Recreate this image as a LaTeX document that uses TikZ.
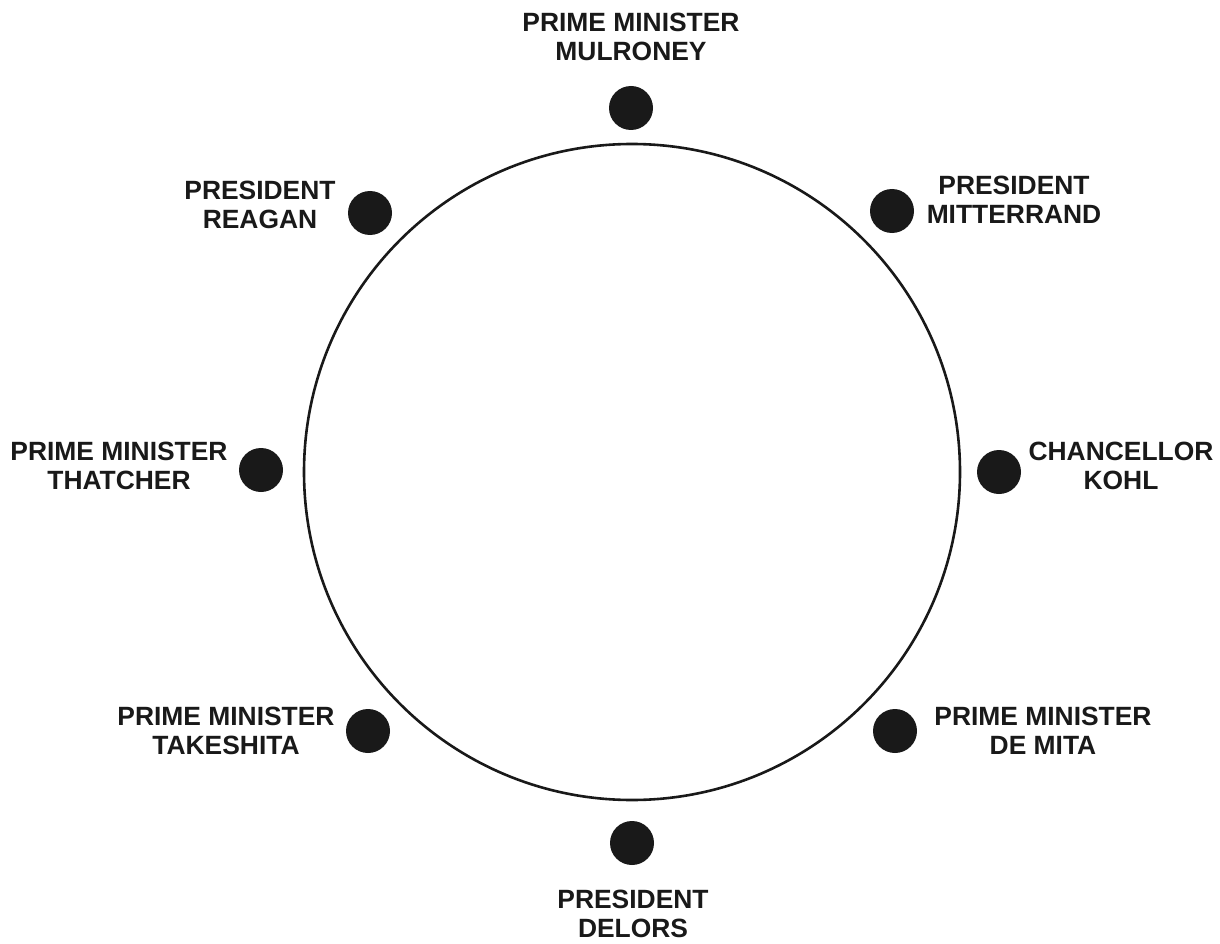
\documentclass[tikz,border=0pt]{standalone}
\usepackage{fontspec}
\setmainfont{Liberation Sans}
\usepackage{tikz}
\usetikzlibrary{positioning}

\tikzset{
    seat/.style={circle, fill=black!90, draw=none, minimum size=44pt, inner sep=0pt},
    leader/.style={align=center, inner sep=0pt, font=\fontsize{26.4}{29}\selectfont\bfseries, text=black!90}
}

\begin{document}
\begin{tikzpicture}[x=1pt, y=-1pt]
    \useasboundingbox (0,0) rectangle (1220,944);

    % Round table
    \draw[line width=2.6pt, black!90] (632,472) circle (328pt);

    % Seats round the table
    \node[seat] (mulroney)   at (631,108) {};
    \node[seat] (mitterrand) at (892,211) {};
    \node[seat] (kohl)       at (999,472) {};
    \node[seat] (demita)     at (895,731) {};
    \node[seat] (delors)     at (632,843) {};
    \node[seat] (takeshita)  at (368,731) {};
    \node[seat] (thatcher)   at (261,470) {};
    \node[seat] (reagan)     at (370,213) {};

    % Names
    \node[leader] (mulroney-name)   at (631,37)   {PRIME MINISTER\\MULRONEY};
    \node[leader] (mitterrand-name) at (1014,200) {PRESIDENT\\MITTERRAND};
    \node[leader] (kohl-name)       at (1121,466) {CHANCELLOR\\KOHL};
    \node[leader] (demita-name)     at (1043,731) {PRIME MINISTER\\DE MITA};
    \node[leader] (delors-name)     at (633,914)  {PRESIDENT\\DELORS};
    \node[leader] (takeshita-name)  at (226,731)  {PRIME MINISTER\\TAKESHITA};
    \node[leader] (thatcher-name)   at (119,466)  {PRIME MINISTER\\THATCHER};
    \node[leader] (reagan-name)     at (260,205)  {PRESIDENT\\REAGAN};
\end{tikzpicture}
\end{document}
